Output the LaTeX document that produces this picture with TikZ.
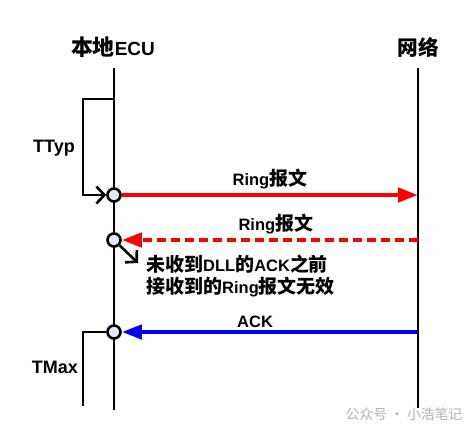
\documentclass[tikz,border=0pt]{standalone}
\usepackage{fontspec}
\setmainfont{Liberation Sans}
\newfontfamily\cjk{Noto Sans CJK SC}[Scale=1.15]
\usetikzlibrary{arrows.meta}

\definecolor{dotfill}{RGB}{228,232,244}
\newcommand{\zh}[1]{{\cjk #1}}

\begin{document}
\begin{tikzpicture}[
     x = 1pt, y = -1pt, % pixel grid of the reference
     line join = miter,
     font = \fontsize{16.5}{19}\selectfont\bfseries, % label text
     semithick % line style
 ]

 \tikzstyle{life}=[
     draw = black,
     line width = 2.6pt
 ]
 \tikzstyle{dot}=[
     circle,
     draw = black,
     line width = 2.6pt,
     fill = dotfill,
     inner sep = 0pt,
     minimum size = 13pt
 ]
 \tikzstyle{msg}=[
     line width = 4.4pt,
     -{Triangle[length=20pt,width=14pt]}
 ]
 \tikzstyle{barb}=[
     line width = 2.6pt,
     -{Straight Barb[length=8pt,width=17pt,line width=2.6pt]}
 ]

 \useasboundingbox (0,0) rectangle (476,434);

 % lifelines
 \node (ecu) at (113,47) {\fontsize{19}{22}\selectfont\zh{本地}ECU};
 \node (net) at (418,47) {\fontsize{18}{21}\selectfont\zh{网络}};
 \coordinate (ecutop) at (114,68);
 \coordinate (ecubot) at (114,410);
 \coordinate (nettop) at (418,68);
 \coordinate (netbot) at (418,408);
 \draw[life] (ecutop) -- (ecubot);
 \draw[life] (nettop) -- (netbot);

 % events on the ECU side
 \node[dot] (t1) at (114,195) {};
 \node[dot] (t2) at (114,240) {};
 \node[dot] (t3) at (114,332) {};
 \coordinate (n1) at (418,195);
 \coordinate (n2) at (418,240);
 \coordinate (n3) at (418,332);

 % TTyp bracket
 \coordinate (ttyp) at (114,99);
 \draw[barb] (ttyp) -- (83,99) |- (t1);
 \node (ttyplbl) at (54,148) {\fontsize{18}{21}\selectfont TTyp};

 % TMax bracket
 \coordinate (tmaxend) at (83,406);
 \draw[life] (t3) -- (83,332) -- (tmaxend);
 \node (tmaxlbl) at (55,367) {\fontsize{18}{21}\selectfont TMax};

 % messages
 \draw[msg, red] (t1) -- (n1)
     node[midway, above=0pt, text=black] {Ring\zh{报文}};
 \draw[msg, red, dash pattern=on 9pt off 5pt] (n2) -- (t2)
     node[pos=0.48, above=0pt, text=black] {Ring\zh{报文}};
 \draw[msg, blue] (n3) -- (t3)
     node[pos=0.55, above=-1pt, text=black] {ACK};

 % note on the ring message
 \coordinate (noteend) at (138,263);
 \draw[barb] (t2) -- (noteend);
 \node[anchor=west, align=left, inner sep=0pt] (note) at (146,276)
   {\zh{未收到}DLL\zh{的}ACK\zh{之前}\\[3pt]\zh{接收到的}Ring\zh{报文无效}};

 \node[text=black!30, font=\fontsize{12}{14}\selectfont] (mark) at (404,414)
   {\zh{公众号 · 小浩笔记}};
\end{tikzpicture}
\end{document}
